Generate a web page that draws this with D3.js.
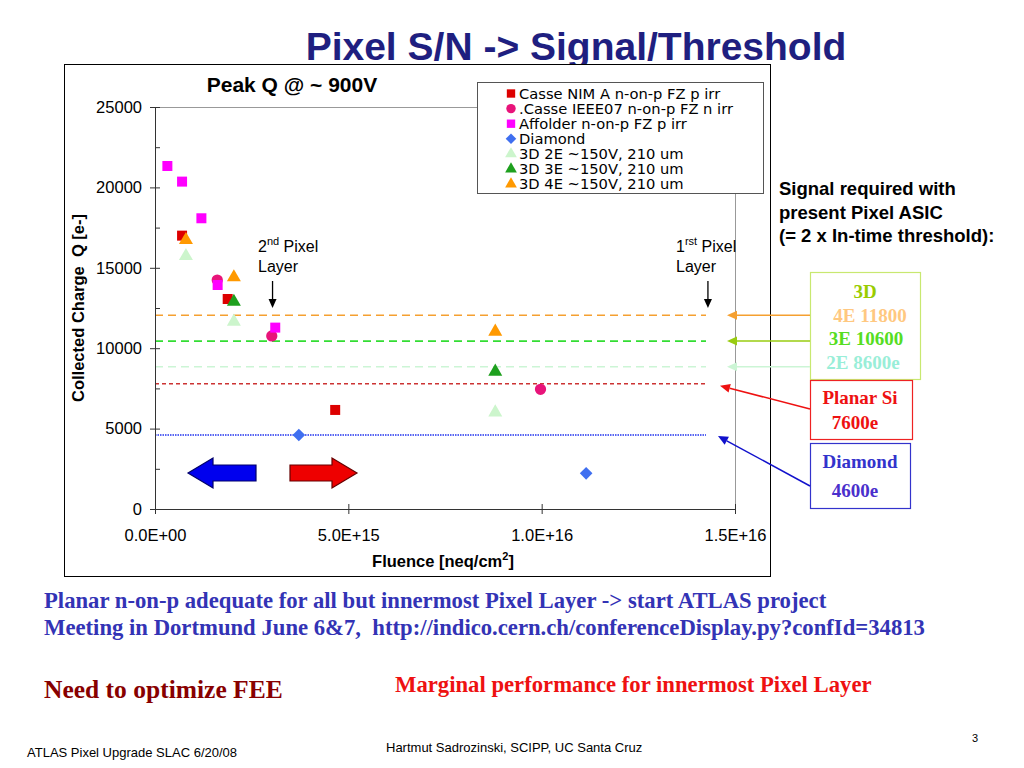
<!DOCTYPE html>
<html><head><meta charset="utf-8">
<script src="https://cdn.jsdelivr.net/npm/d3@7"></script>
<style>body{margin:0;background:#fff}svg{display:block}</style>
</head><body><svg id="c" width="1024" height="768"></svg>
<script>
// ---------- data ----------
const casseNimFluence = [0.70e15, 1.88e15, 4.66e15];
const casseNimCharge  = [17000, 13060, 6160];
const casseIeeeFluence = [1.61e15, 3.02e15, 9.97e15];
const casseIeeeCharge  = [14240, 10760, 7440];
const affolderFluence = [0.32e15, 0.70e15, 1.20e15, 1.62e15, 3.11e15];
const affolderCharge  = [21330, 20360, 18080, 13930, 11280];
const diamondFluence = [3.72e15, 11.15e15];
const diamondCharge  = [4600, 2220];
const d3_2eFluence = [0.80e15, 2.04e15, 8.80e15];
const d3_2eCharge  = [15730, 11650, 6010];
const d3_3eFluence = [2.04e15, 8.80e15];
const d3_3eCharge  = [12890, 8540];
const d3_4eFluence = [0.80e15, 2.04e15, 8.80e15];
const d3_4eCharge  = [16730, 14410, 11030];
const seriesNames = ["Casse NIM A n-on-p FZ p irr", ".Casse IEEE07 n-on-p FZ n irr", "Affolder n-on-p FZ p irr",
  "Diamond", "3D 2E ~150V, 210 um", "3D 3E ~150V, 210 um", "3D 4E ~150V, 210 um"];
const thresholdNames  = ["4E", "3E", "2E", "Planar Si", "Diamond"];
const thresholdValues = [12050, 10440, 8850, 7790, 4600];
const thresholdEnd = 1.425e16;
const xTickValues = [0, 5e15, 1e16, 1.5e16];
const xTickLabels = ["0.0E+00", "5.0E+15", "1.0E+16", "1.5E+16"];
const yTickValues = [0, 5000, 10000, 15000, 20000, 25000];
const yMinorTicks = [2500, 7500, 12500, 17500, 22500];
const layerFluence = [3.04e15, 1.43e16];

// ---------- styles ----------
const series = [
  {x: casseNimFluence, y: casseNimCharge, sym: d3.symbolSquare, size: 100, color: "#dd0000", rot: 0},
  {x: casseIeeeFluence, y: casseIeeeCharge, sym: d3.symbolCircle, size: 100, color: "#e8147a", rot: 0},
  {x: affolderFluence, y: affolderCharge, sym: d3.symbolSquare, size: 100, color: "#ff00ff", rot: 0},
  {x: diamondFluence, y: diamondCharge, sym: d3.symbolSquare, size: 80, color: "#3f6ff0", rot: 45},
  {x: d3_2eFluence, y: d3_2eCharge, sym: d3.symbolTriangle, size: 85, color: "#ccf5cc", rot: 0},
  {x: d3_3eFluence, y: d3_3eCharge, sym: d3.symbolTriangle, size: 85, color: "#1ea01e", rot: 0},
  {x: d3_4eFluence, y: d3_4eCharge, sym: d3.symbolTriangle, size: 85, color: "#ff9900", rot: 0}
];
const thStyles = [
  {color: "#f5a030", dash: "8,5", w: 1.6},
  {color: "#33dd33", dash: "8,5", w: 1.6},
  {color: "#ccf5d5", dash: "8,5", w: 1.6},
  {color: "#cc3333", dash: "4,3", w: 1.6},
  {color: "#2233ee", dash: "1.5,1", w: 1.4}
];

const svg = d3.select("#c");
const x = d3.scaleLinear().domain([0, 1.5e16]).range([155, 735]);
const y = d3.scaleLinear().domain([0, 25000]).range([509, 107]);

// slide title
svg.append("text").attr("x", 576).attr("y", 60).attr("text-anchor", "middle")
  .attr("font-family", "Liberation Sans, Arial, sans-serif").attr("font-weight", "bold")
  .attr("font-size", 39).attr("fill", "#1f1f80").text("Pixel S/N -> Signal/Threshold");

// chart frame
svg.append("rect").attr("x", 64.5).attr("y", 64.5).attr("width", 706).attr("height", 512)
  .attr("fill", "#fff").attr("stroke", "#000").attr("stroke-width", 1);

// plot area border (top / right)
svg.append("path").attr("d", `M${x(0)},${y(25000)+0.5}H${x(1.5e16)+0.5}V${y(0)}`)
  .attr("fill", "none").attr("stroke", "#999").attr("stroke-width", 1);

// threshold lines
thresholdValues.forEach((v, i) => {
  svg.append("line").attr("x1", x(0)).attr("x2", x(thresholdEnd))
    .attr("y1", y(v)).attr("y2", y(v))
    .attr("stroke", thStyles[i].color).attr("stroke-width", thStyles[i].w)
    .attr("stroke-dasharray", thStyles[i].dash);
});

// axes
const fontAxis = "Liberation Sans, Arial, sans-serif";
const xAxis = svg.append("g").attr("transform", `translate(0,${y(0)})`)
  .call(d3.axisBottom(x).tickValues(xTickValues).tickFormat((d, i) => xTickLabels[i]).tickSizeOuter(0).tickSizeInner(5).tickPadding(15));
xAxis.selectAll(".tick line").attr("y1", -5).attr("y2", 5);
const yAxis = svg.append("g").attr("transform", `translate(${x(0)},0)`)
  .call(d3.axisLeft(y).tickValues(yTickValues).tickFormat(d3.format("d")).tickSizeOuter(0).tickSizeInner(5).tickPadding(8));
yAxis.selectAll(".tick line").attr("x1", -5).attr("x2", 5);
const yMinor = svg.append("g").attr("transform", `translate(${x(0)},0)`)
  .call(d3.axisRight(y).tickValues(yMinorTicks).tickFormat("").tickSizeOuter(0).tickSizeInner(5));
yMinor.select(".domain").remove();
[xAxis, yAxis, yMinor].forEach(g => {
  g.selectAll(".domain, line").attr("stroke", "#333");
  g.selectAll("text").attr("font-family", fontAxis).attr("font-size", 16.5).attr("fill", "#000");
});

// chart title
svg.append("text").attr("x", 292).attr("y", 92).attr("text-anchor", "middle")
  .attr("font-family", fontAxis).attr("font-weight", "bold").attr("font-size", 21)
  .text("Peak Q @ ~ 900V");

// axis titles
svg.append("text").attr("transform", "translate(84,308) rotate(-90)").attr("text-anchor", "middle")
  .attr("font-family", fontAxis).attr("font-weight", "bold").attr("font-size", 16.5)
  .attr("xml:space", "preserve").text("Collected Charge  Q [e-]");
const xt = svg.append("text").attr("x", 443).attr("y", 567).attr("text-anchor", "middle")
  .attr("font-family", fontAxis).attr("font-weight", "bold").attr("font-size", 16.5);
xt.append("tspan").text("Fluence [neq/cm");
xt.append("tspan").attr("font-size", 11).attr("dy", -7).text("2");
xt.append("tspan").attr("dy", 7).text("]");

// fat arrows
svg.append("path").attr("d", "M188,473 L213,458 L213,465 L256,465 L256,481 L213,481 L213,488 Z")
  .attr("fill", "#0000ee").attr("stroke", "#00006a").attr("stroke-width", 1.2);
svg.append("path").attr("d", "M357,473 L332,458 L332,465 L290,465 L290,481 L332,481 L332,488 Z")
  .attr("fill", "#ee0000").attr("stroke", "#660000").attr("stroke-width", 1.2);

// data points
series.forEach(s => {
  svg.append("g").selectAll("path").data(s.x.map((v, i) => [v, s.y[i]])).join("path")
    .attr("transform", d => `translate(${x(d[0])},${y(d[1])}) rotate(${s.rot})`)
    .attr("d", d3.symbol(s.sym, s.size)).attr("fill", s.color);
});

// layer annotations
const annFont = fontAxis;
[["2", "nd", 258], ["1", "rst", 676]].forEach((a, i) => {
  const t = svg.append("text").attr("x", a[2]).attr("y", 252).attr("font-family", annFont).attr("font-size", 16);
  t.append("tspan").text(a[0]);
  t.append("tspan").attr("font-size", 11).attr("dy", -7).text(a[1]);
  t.append("tspan").attr("dy", 7).text(" Pixel");
  svg.append("text").attr("x", a[2]).attr("y", 272).attr("font-family", annFont).attr("font-size", 16).text("Layer");
  const ax = x(layerFluence[i]);
  svg.append("line").attr("x1", ax).attr("x2", ax).attr("y1", 281).attr("y2", 300).attr("stroke", "#000").attr("stroke-width", 1.3);
  svg.append("path").attr("d", `M${ax-4},299 L${ax+4},299 L${ax},308 Z`).attr("fill", "#000");
});

// legend
const lg = svg.append("g");
lg.append("rect").attr("x", 477.5).attr("y", 82.5).attr("width", 286).attr("height", 111)
  .attr("fill", "#fff").attr("stroke", "#555").attr("stroke-width", 1);
seriesNames.forEach((n, i) => {
  const yy = 93.5 + i * 15.1;
  const s = series[i];
  lg.append("path").attr("transform", `translate(511,${yy}) rotate(${s.rot})`).attr("d", d3.symbol(s.sym, s.size * 0.7)).attr("fill", s.color);
  lg.append("text").attr("x", 519).attr("y", yy + 5).attr("font-family", "DejaVu Sans, Verdana, sans-serif")
    .attr("font-size", 14.7).text(n);
});

// right side text
["Signal required with", "present Pixel ASIC", "(= 2 x In-time threshold):"].forEach((t, i) => {
  svg.append("text").attr("x", 779).attr("y", 195 + i * 23.5).attr("font-family", fontAxis)
    .attr("font-weight", "bold").attr("font-size", 18.5).text(t);
});

// threshold boxes
const serif = "Liberation Serif, Times New Roman, serif";
svg.append("rect").attr("x", 810.5).attr("y", 272.5).attr("width", 110).attr("height", 107).attr("fill", "#fff").attr("stroke", "#c8e870").attr("stroke-width", 1.2);
svg.append("rect").attr("x", 810.5).attr("y", 380.5).attr("width", 102).attr("height", 59).attr("fill", "#fff").attr("stroke", "#ee2222").attr("stroke-width", 1.2);
svg.append("rect").attr("x", 810.5).attr("y", 443.5).attr("width", 100).attr("height", 65).attr("fill", "#fff").attr("stroke", "#3333cc").attr("stroke-width", 1.2);
const boxText = [
  ["3D", 865, 298, "#99cc00"],
  [thresholdNames[0] + " 11800", 870, 322, "#ffc880"],
  [thresholdNames[1] + " 10600", 866, 345, "#55dd22"],
  [thresholdNames[2] + " 8600e", 863, 369, "#99eed8"],
  [thresholdNames[3], 860, 404, "#ee1111"],
  ["7600e", 855, 429, "#ee1111"],
  [thresholdNames[4], 860, 468, "#3333cc"],
  ["4600e", 855, 497, "#4a2fcc"]
];
boxText.forEach(b => {
  svg.append("text").attr("x", b[1]).attr("y", b[2]).attr("text-anchor", "middle")
    .attr("font-family", serif).attr("font-weight", "bold").attr("font-size", 19).attr("fill", b[3]).text(b[0]);
});

// connector arrows from boxes to threshold lines
function arrow(x1, y1, x2, y2, color) {
  const ang = Math.atan2(y2 - y1, x2 - x1), L = 10, W = 4.5;
  const bx = x2 - L * Math.cos(ang), by = y2 - L * Math.sin(ang);
  svg.append("line").attr("x1", x1).attr("y1", y1).attr("x2", bx).attr("y2", by).attr("stroke", color).attr("stroke-width", 1.5);
  svg.append("path").attr("d", `M${x2},${y2} L${bx - W * Math.sin(ang)},${by + W * Math.cos(ang)} L${bx + W * Math.sin(ang)},${by - W * Math.cos(ang)} Z`).attr("fill", color);
}
arrow(810, y(thresholdValues[0]), 727, y(thresholdValues[0]), "#f5a030");
arrow(810, y(thresholdValues[1]), 727, y(thresholdValues[1]), "#99cc11");
arrow(810, y(thresholdValues[2]), 727, y(thresholdValues[2]), "#ccf5d5");
arrow(810, 409, 720, y(thresholdValues[3]) + 2, "#ee1111");
arrow(810, 486, 718, y(thresholdValues[4]) + 1, "#1111cc");

// bottom notes
svg.append("text").attr("x", 44).attr("y", 608).attr("font-family", serif).attr("font-weight", "bold")
  .attr("font-size", 22.7).attr("fill", "#3333b5").text("Planar n-on-p adequate for all but innermost Pixel Layer -> start ATLAS project");
svg.append("text").attr("x", 44).attr("y", 635).attr("font-family", serif).attr("font-weight", "bold")
  .attr("font-size", 22.7).attr("fill", "#3333b5").attr("xml:space", "preserve")
  .text("Meeting in Dortmund June 6&7,  http://indico.cern.ch/conferenceDisplay.py?confId=34813");
svg.append("text").attr("x", 44).attr("y", 698).attr("font-family", serif).attr("font-weight", "bold")
  .attr("font-size", 25.5).attr("fill", "#880000").text("Need to optimize FEE");
svg.append("text").attr("x", 395).attr("y", 692).attr("font-family", serif).attr("font-weight", "bold")
  .attr("font-size", 22.7).attr("fill", "#ee1111").text("Marginal performance for innermost Pixel Layer");

// footer
svg.append("text").attr("x", 27).attr("y", 757).attr("font-family", fontAxis).attr("font-size", 13).text("ATLAS Pixel Upgrade SLAC 6/20/08");
svg.append("text").attr("x", 386).attr("y", 752).attr("font-family", fontAxis).attr("font-size", 13).text("Hartmut Sadrozinski, SCIPP, UC Santa Cruz");
svg.append("text").attr("x", 972).attr("y", 742).attr("font-family", fontAxis).attr("font-size", 11).text("3");
</script></body></html>
